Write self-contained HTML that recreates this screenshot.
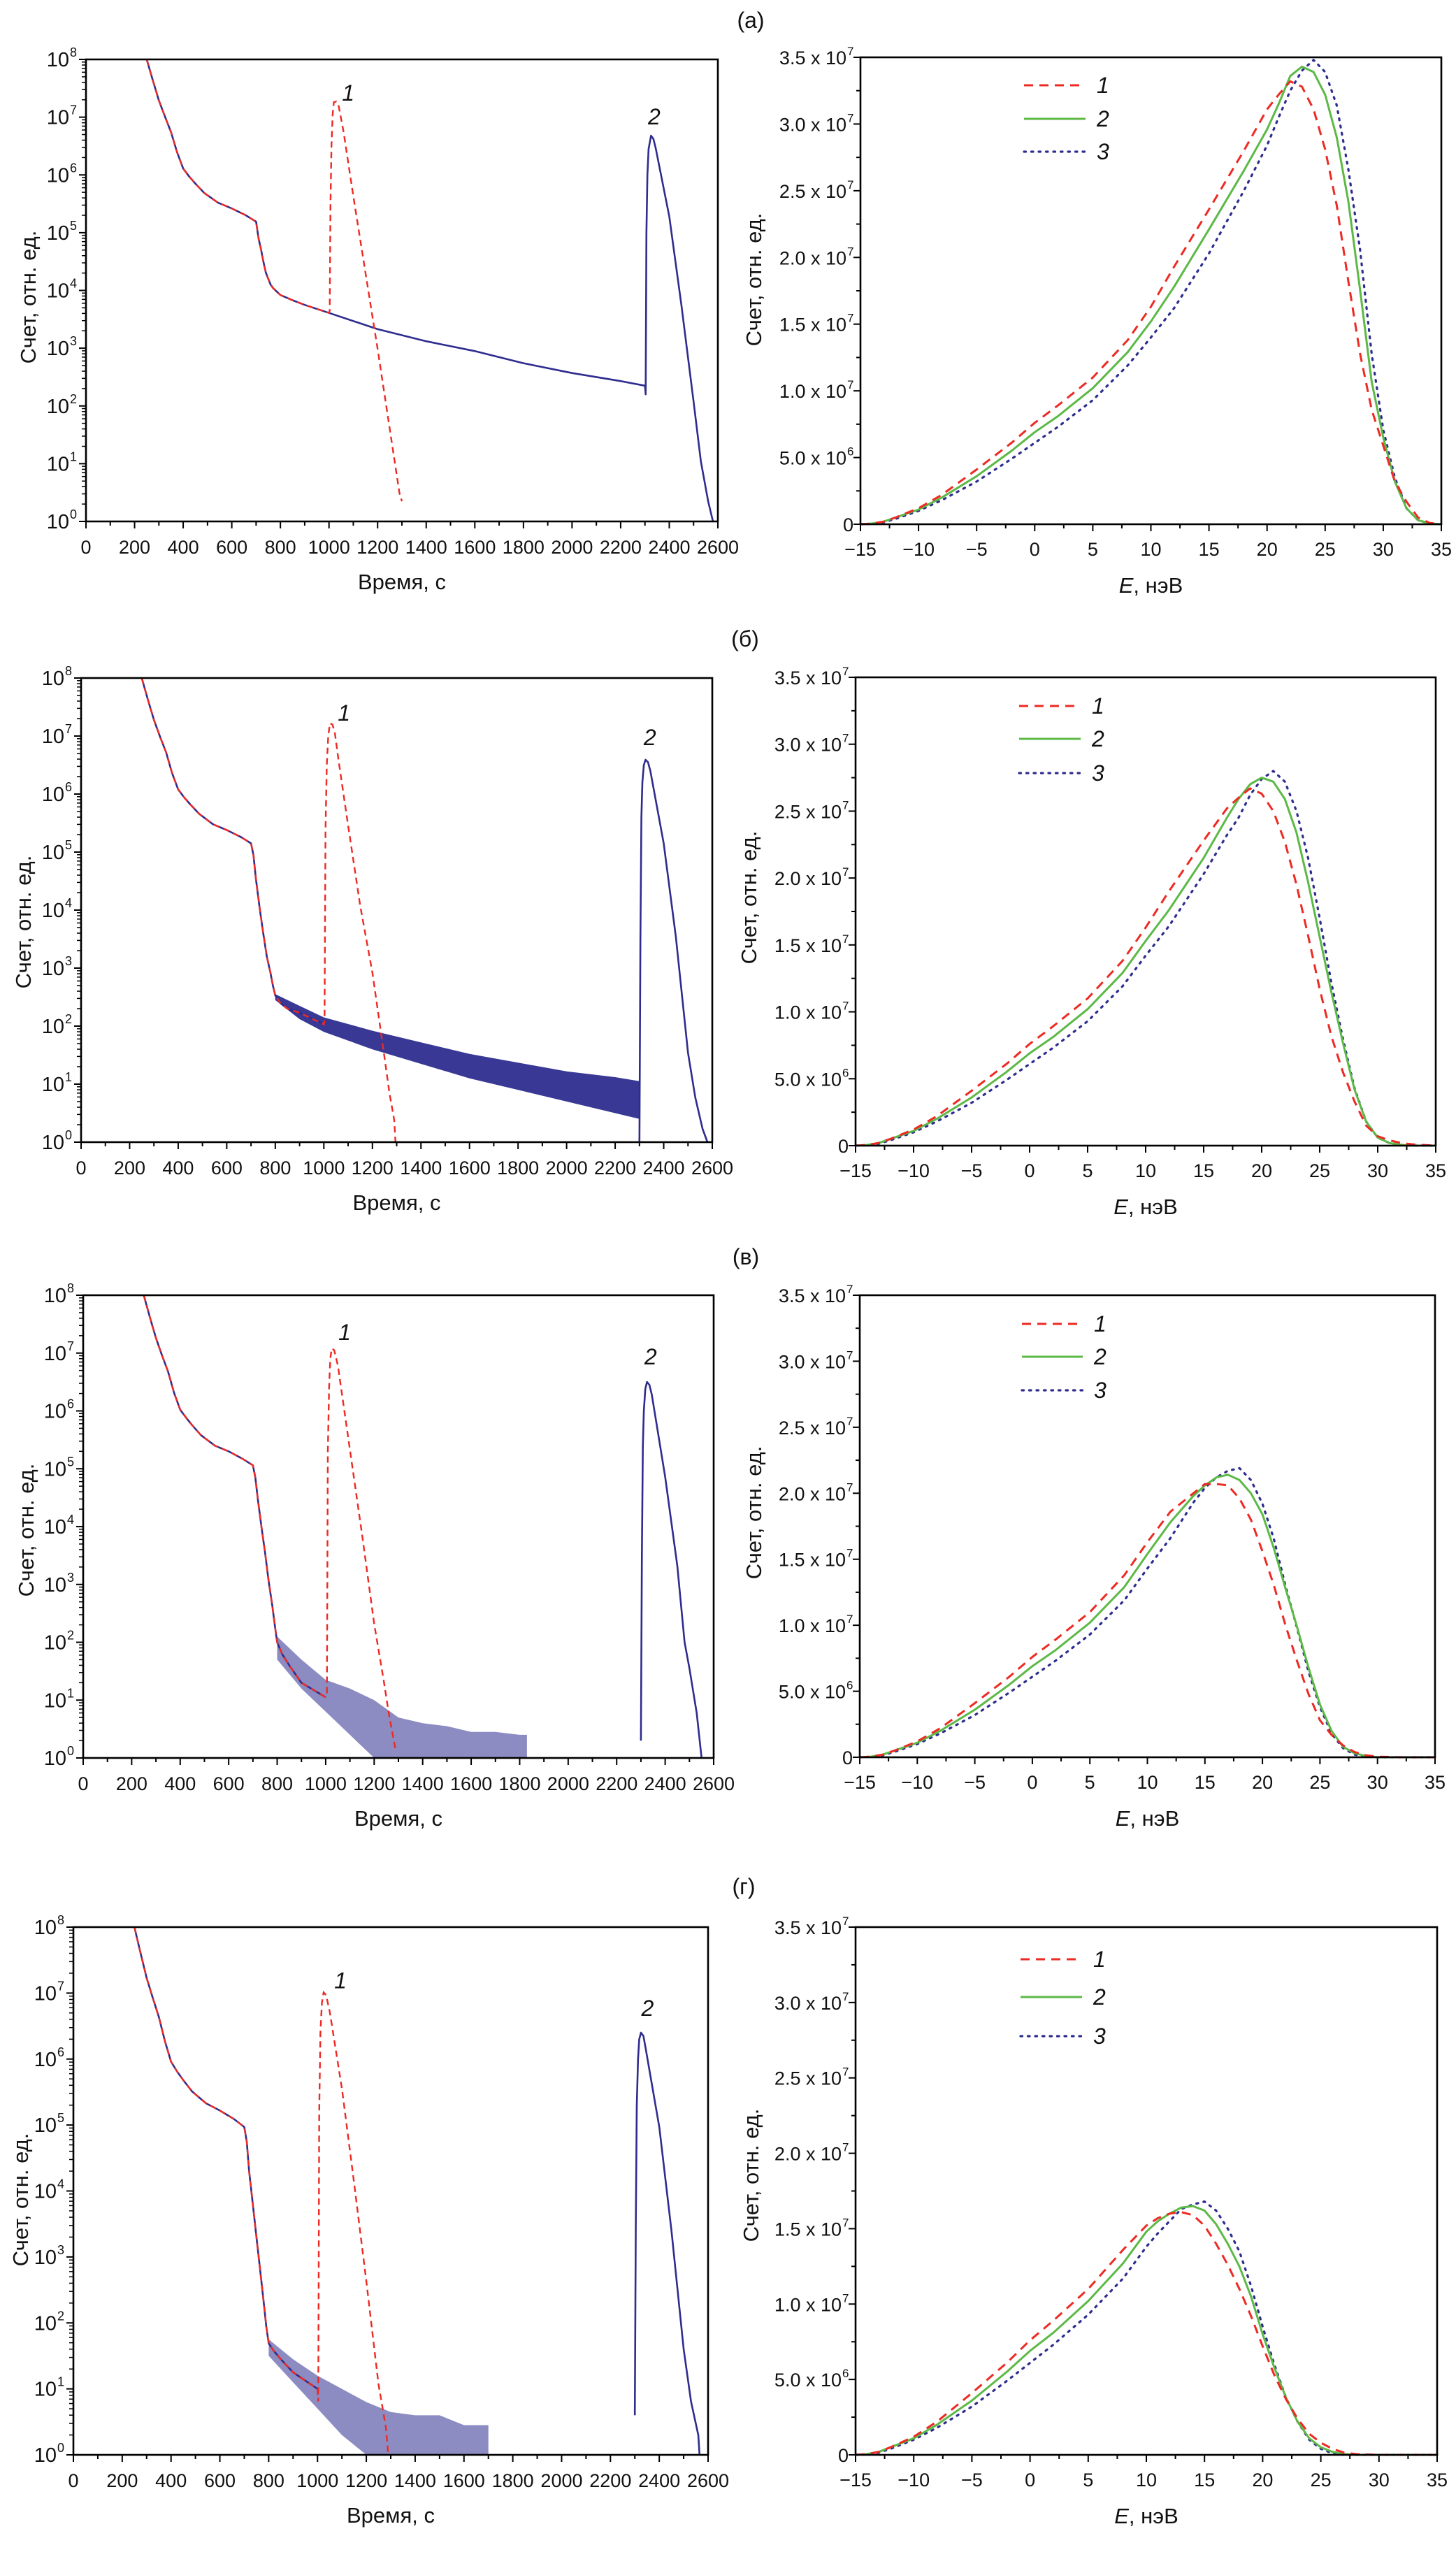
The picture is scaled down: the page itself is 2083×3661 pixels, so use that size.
<!DOCTYPE html>
<html><head><meta charset="utf-8">
<style>
html,body{margin:0;padding:0;background:#fff;}
svg{display:block;}
text{font-family:"Liberation Sans","DejaVu Sans",sans-serif;fill:#111;}
</style></head>
<body>
<svg id="fig" xmlns="http://www.w3.org/2000/svg" width="2083" height="3661" viewBox="0 0 2083 3661"></svg>
<script>
// ---------- DATA (time plots: log10 of count) ----------
const timeTicks=[0,200,400,600,800,1000,1200,1400,1600,1800,2000,2200,2400,2600];
const logTicks=[0,1,2,3,4,5,6,7,8];
const energyTicks=[-15,-10,-5,0,5,10,15,20,25,30,35];
const countTicks=[0,5e6,1e7,1.5e7,2e7,2.5e7,3e7,3.5e7];
const countTickMant=["0","5.0","1.0","1.5","2.0","2.5","3.0","3.5"];
const countTickExp=["","6","7","7","7","7","7","7"];
const panelLabels=["(а)","(б)","(в)","(г)"];

// panel a
const aBlueT=[250,275,300,325,350,375,400,425,450,486,543,600,658,700,710,720,730,740,750,760,770,790,800,850,900,1000,1200,1400,1600,1800,2000,2200,2300];
const aBlueV=[8,7.64,7.29,7.01,6.74,6.39,6.11,5.97,5.85,5.69,5.52,5.42,5.30,5.19,4.9,4.72,4.5,4.31,4.2,4.1,4.04,3.96,3.92,3.83,3.75,3.61,3.33,3.12,2.95,2.74,2.57,2.43,2.35];
const aPeakT=[2300,2303,2306,2310,2315,2325,2335,2345,2400,2450,2500,2530,2560,2580];
const aPeakV=[2.35,2.2,5.0,6.0,6.45,6.68,6.62,6.45,5.28,3.75,2.08,1.04,0.35,0];
const aRedT=[250,275,300,325,350,375,400,425,450,486,543,600,658,700,710,720,730,740,750,760,770,790,800,850,900,1000,1003,1006,1010,1015,1020,1030,1040,1060,1100,1150,1200,1250,1270,1290,1300];
const aRedV=[8,7.64,7.29,7.01,6.74,6.39,6.11,5.97,5.85,5.69,5.52,5.42,5.30,5.19,4.9,4.72,4.5,4.31,4.2,4.1,4.04,3.96,3.92,3.83,3.75,3.61,3.65,5.5,6.5,7.05,7.26,7.27,7.19,6.74,5.63,4.31,2.99,1.6,1.04,0.49,0.35];
const aNoiseT=[], aNoiseLo=[], aNoiseHi=[];
// panel б
const bBlueT=[250,275,300,325,350,375,400,425,450,486,543,600,658,700,710,720,735,750,765,780,790,800,820,850,900,1000];
const bBlueV=[8,7.63,7.28,6.99,6.72,6.36,6.08,5.94,5.82,5.66,5.48,5.38,5.26,5.15,4.95,4.54,4.05,3.61,3.2,2.92,2.7,2.53,2.4,2.30,2.23,2.03];
const bPeakT=[2300,2304,2308,2312,2318,2325,2335,2345,2400,2450,2500,2530,2560,2580];
const bPeakV=[0,3.5,5.6,6.2,6.5,6.59,6.55,6.4,5.15,3.54,1.54,0.77,0.23,0];
const bRedT=[250,275,300,325,350,375,400,425,450,486,543,600,658,700,710,720,735,750,765,780,790,800,820,850,900,1000,1003,1007,1012,1018,1025,1035,1045,1060,1100,1150,1200,1250,1270,1290,1295];
const bRedV=[8,7.63,7.28,6.99,6.72,6.36,6.08,5.94,5.82,5.66,5.48,5.38,5.26,5.15,4.95,4.54,4.05,3.61,3.2,2.92,2.7,2.53,2.4,2.30,2.23,2.03,2.1,5.4,6.5,7.0,7.22,7.2,7.07,6.6,5.46,4.07,2.92,1.46,0.85,0.38,0];
const bNoiseT=[800,900,1000,1200,1400,1600,1800,2000,2200,2300];
const bNoiseLo=[2.45,2.12,1.9,1.6,1.35,1.1,0.9,0.7,0.5,0.4];
const bNoiseHi=[2.55,2.35,2.15,1.92,1.72,1.52,1.37,1.22,1.12,1.05];
// panel в
const cBlueT=[250,275,300,325,350,375,400,425,450,486,543,600,658,700,710,720,735,750,765,780,790,800,820,850,900,1000];
const cBlueV=[8,7.62,7.26,6.96,6.68,6.31,6.02,5.88,5.75,5.58,5.40,5.30,5.17,5.06,4.85,4.48,4.0,3.55,3.05,2.63,2.3,2.0,1.8,1.6,1.3,1.05];
const cPeakT=[2300,2304,2308,2312,2318,2325,2335,2345,2400,2450,2480,2500,2530,2550];
const cPeakV=[0.3,3.5,5.4,6.0,6.38,6.5,6.45,6.28,4.86,3.32,2.0,1.55,0.78,0];
const cRedT=[250,275,300,325,350,375,400,425,450,486,543,600,658,700,710,720,735,750,765,780,790,800,820,850,900,1000,1005,1009,1014,1019,1025,1035,1050,1100,1150,1200,1240,1260,1290];
const cRedV=[8,7.62,7.26,6.96,6.68,6.31,6.02,5.88,5.75,5.58,5.40,5.30,5.17,5.06,4.85,4.48,4.0,3.55,3.05,2.63,2.3,2.0,1.8,1.6,1.3,1.05,1.1,5.3,6.4,6.9,7.08,7.05,6.79,5.33,3.86,2.32,1.32,0.78,0.1];
const cNoiseT=[800,900,1000,1100,1200,1300,1400,1500,1600,1700,1800,1830];
const cNoiseLo=[1.7,1.2,0.8,0.4,0,0,0,0,0,0,0,0];
const cNoiseHi=[2.1,1.7,1.35,1.2,1.0,0.7,0.6,0.55,0.45,0.45,0.4,0.4];
// panel г
const dBlueT=[250,275,300,325,350,375,400,425,450,486,543,600,658,700,710,720,735,750,765,780,790,800,820,850,900,1000];
const dBlueV=[8,7.61,7.23,6.93,6.64,6.27,5.96,5.81,5.68,5.51,5.33,5.22,5.09,4.97,4.75,4.3,3.8,3.3,2.8,2.3,1.95,1.69,1.58,1.45,1.25,1.0];
const dPeakT=[2300,2304,2308,2313,2318,2325,2335,2345,2400,2450,2500,2530,2560,2565];
const dPeakV=[0.6,3.5,5.3,6.0,6.3,6.4,6.35,6.15,4.97,3.4,1.6,0.81,0.3,0];
const dRedT=[250,275,300,325,350,375,400,425,450,486,543,600,658,700,710,720,735,750,765,780,790,800,820,850,900,1000,1003,1007,1012,1018,1025,1035,1050,1100,1150,1200,1250,1280,1290];
const dRedV=[8,7.61,7.23,6.93,6.64,6.27,5.96,5.81,5.68,5.51,5.33,5.22,5.09,4.97,4.75,4.3,3.8,3.3,2.8,2.3,1.95,1.69,1.58,1.45,1.25,1.0,0.81,5.2,6.4,6.85,7.01,6.97,6.72,5.55,4.12,2.63,1.07,0.42,0];
const dNoiseT=[800,900,1000,1100,1200,1300,1400,1500,1600,1700];
const dNoiseLo=[1.5,1.1,0.7,0.3,0,0,0,0,0,0];
const dNoiseHi=[1.75,1.45,1.2,1.0,0.8,0.65,0.6,0.6,0.45,0.45];
// curve number label positions (time, log10)
const label1T=[1079,1083,1078,1094], label1V=[7.43,7.41,7.37,7.2];
const label2T=[2338,2343,2340,2352], label2V=[7.02,6.99,6.95,6.78];

// ---------- DATA (energy plots, units of 1e7) ----------
const aE=[-15,-14,-13,-12,-10,-8,-5,-2,0,2,5,8,10,12,15,18,20,21,22,23,24,25,26,27,28,29,30,31,32,33,34,35];
const aS1=[0,0.005,0.02,0.05,0.12,0.22,0.41,0.61,0.76,0.89,1.10,1.38,1.63,1.93,2.36,2.80,3.11,3.22,3.32,3.28,3.11,2.81,2.39,1.82,1.28,0.86,0.59,0.32,0.17,0.05,0.01,0];
const aS2=[0,0.005,0.02,0.05,0.11,0.2,0.36,0.55,0.69,0.81,1.02,1.29,1.52,1.78,2.21,2.65,2.96,3.15,3.36,3.43,3.39,3.22,2.90,2.42,1.76,1.07,0.65,0.32,0.12,0.03,0.005,0];
const aS3=[0,0.003,0.015,0.04,0.10,0.18,0.32,0.49,0.61,0.73,0.93,1.19,1.40,1.62,2.03,2.50,2.84,3.05,3.25,3.40,3.48,3.39,3.14,2.66,2.06,1.28,0.71,0.35,0.12,0.03,0.005,0];
const bE=[-15,-14,-13,-12,-10,-8,-5,-2,0,2,5,8,10,12,15,17,18,19,20,21,22,23,24,25,26,27,28,29,30,31,32,33,35];
const bS1=[0,0.005,0.02,0.05,0.12,0.22,0.41,0.61,0.76,0.89,1.10,1.38,1.63,1.90,2.28,2.52,2.60,2.67,2.63,2.50,2.27,1.95,1.57,1.17,0.82,0.55,0.33,0.15,0.07,0.04,0.02,0.01,0];
const bS2=[0,0.005,0.02,0.05,0.11,0.2,0.36,0.55,0.69,0.81,1.02,1.29,1.53,1.76,2.15,2.45,2.59,2.70,2.75,2.72,2.59,2.34,1.97,1.56,1.15,0.77,0.42,0.18,0.06,0.02,0.005,0,0];
const bS3=[0,0.003,0.015,0.04,0.10,0.18,0.32,0.49,0.61,0.73,0.93,1.19,1.42,1.64,2.03,2.32,2.45,2.62,2.74,2.80,2.72,2.50,2.15,1.70,1.22,0.80,0.43,0.18,0.06,0.02,0.005,0,0];
const cE=[-15,-14,-13,-12,-10,-8,-5,-2,0,2,5,8,10,12,14,15,16,17,18,19,20,21,22,23,24,25,26,27,28,29,30,32,35];
const cS1=[0,0.005,0.02,0.05,0.12,0.22,0.41,0.61,0.76,0.89,1.10,1.38,1.63,1.86,2.00,2.07,2.07,2.06,1.96,1.80,1.56,1.30,1.00,0.73,0.48,0.28,0.17,0.09,0.04,0.015,0.005,0,0];
const cS2=[0,0.005,0.02,0.05,0.11,0.2,0.36,0.55,0.69,0.81,1.02,1.29,1.54,1.78,1.98,2.06,2.12,2.14,2.10,2.00,1.84,1.58,1.28,0.99,0.68,0.40,0.20,0.08,0.03,0.01,0,0,0];
const cS3=[0,0.003,0.015,0.04,0.10,0.18,0.32,0.49,0.61,0.73,0.93,1.19,1.43,1.66,1.93,2.04,2.12,2.17,2.19,2.10,1.92,1.65,1.30,0.98,0.65,0.38,0.18,0.07,0.02,0.005,0,0,0];
const dE=[-15,-14,-13,-12,-10,-8,-5,-2,0,2,5,8,10,11,12,13,14,15,16,17,18,19,20,21,22,23,24,25,26,27,28,30,35];
const dS1=[0,0.005,0.02,0.05,0.12,0.22,0.41,0.61,0.76,0.89,1.10,1.36,1.52,1.57,1.60,1.61,1.59,1.52,1.40,1.26,1.10,0.92,0.72,0.53,0.37,0.24,0.14,0.08,0.04,0.015,0.005,0,0];
const dS2=[0,0.005,0.02,0.05,0.11,0.2,0.36,0.55,0.69,0.81,1.02,1.27,1.48,1.55,1.60,1.64,1.65,1.62,1.53,1.40,1.25,1.05,0.80,0.58,0.38,0.22,0.11,0.05,0.02,0.005,0,0,0];
const dS3=[0,0.003,0.015,0.04,0.10,0.18,0.32,0.49,0.61,0.73,0.93,1.17,1.38,1.47,1.55,1.63,1.66,1.68,1.62,1.50,1.35,1.12,0.85,0.60,0.38,0.22,0.10,0.04,0.01,0,0,0,0];

// ---------- LAYOUT ----------
const NS="http://www.w3.org/2000/svg";
const svg=document.getElementById('fig');
const RED="#ed2a24", BLUE="#2e2d8f", GREEN="#5cb946";
const leftBoxes=[{l:123,r:1027,t:85,b:746},{l:116,r:1019,t:970,b:1634},{l:119,r:1021,t:1853,b:2515},{l:105,r:1013,t:2757,b:3512}];
const rightBoxes=[{l:1231,r:2062,t:82,b:750},{l:1224,r:2054,t:969,b:1639},{l:1230,r:2053,t:1853,b:2514},{l:1224,r:2056,t:2757,b:3512}];
const panelLabelPos=[[1074,40],[1066,925],[1067,1809],[1064,2710]];
const leftYTitle=[[40,425],[33,1319],[37,2189],[29,3147]];
const rightYTitle=[[1078,400],[1071,1284],[1078,2164],[1074,3112]];
const legendRows=[[122,170,217],[1010,1057,1106],[1894,1941,1989],[2803,2857,2913]];
const legendX=[[1465,1553],[1458,1546],[1462,1549],[1460,1548]];
const bandOpacity=[0.8,0.95,0.55,0.55];

function mk(tag,attrs,parent){const e=document.createElementNS(NS,tag);for(const k in attrs)e.setAttribute(k,attrs[k]);(parent||svg).appendChild(e);return e;}
function pathD(xs,ys){let d="";for(let i=0;i<xs.length;i++)d+=(i?"L":"M")+xs[i].toFixed(1)+" "+ys[i].toFixed(1);return d;}

const blueMain=[[aBlueT,aBlueV],[bBlueT,bBlueV],[cBlueT,cBlueV],[dBlueT,dBlueV]];
const bluePeak=[[aPeakT,aPeakV],[bPeakT,bPeakV],[cPeakT,cPeakV],[dPeakT,dPeakV]];
const redSer=[[aRedT,aRedV],[bRedT,bRedV],[cRedT,cRedV],[dRedT,dRedV]];
const noiseSer=[[aNoiseT,aNoiseLo,aNoiseHi],[bNoiseT,bNoiseLo,bNoiseHi],[cNoiseT,cNoiseLo,cNoiseHi],[dNoiseT,dNoiseLo,dNoiseHi]];
const energySer=[[aE,aS1,aS2,aS3],[bE,bS1,bS2,bS3],[cE,cS1,cS2,cS3],[dE,dS1,dS2,dS3]];

for(let p=0;p<4;p++){
  const pl=mk('text',{x:panelLabelPos[p][0],y:panelLabelPos[p][1],'text-anchor':'middle','font-size':32});
  
  
  pl.textContent=panelLabels[p];

  // ===== LEFT (time, log) =====
  const B=leftBoxes[p];
  const X=t=>B.l+(t/2600)*(B.r-B.l);
  const Y=v=>B.b-(v/8)*(B.b-B.t);
  const g=mk('g',{});
  
  
  for(let t=0;t<=2600;t+=100){
    const major=t%200===0;
    mk('line',{x1:X(t),x2:X(t),y1:B.b,y2:B.b+(major?10:6),stroke:'#000','stroke-width':2},g);
  }
  timeTicks.forEach(t=>{
    const tx=mk('text',{x:X(t),y:B.b+46,'text-anchor':'middle','font-size':27},g);
    
    
    tx.textContent=t;
  });
  logTicks.forEach(v=>{
    mk('line',{x1:B.l-10,x2:B.l,y1:Y(v),y2:Y(v),stroke:'#000','stroke-width':2},g);
    if(v<8)for(let m=2;m<=9;m++){const yy=Y(v+Math.log10(m));mk('line',{x1:B.l-6,x2:B.l,y1:yy,y2:yy,stroke:'#000','stroke-width':1.5},g);}
    const tx=mk('text',{x:B.l-24,y:Y(v)+10,'text-anchor':'end','font-size':29},g);
    
    
    tx.textContent="10";
    const sp=mk('text',{x:B.l-23,y:Y(v)-4,'text-anchor':'start','font-size':18},g);
    sp.textContent=v;
  });
  const nz=noiseSer[p];
  if(nz[0].length){
    const xs=nz[0].map(X).concat(nz[0].slice().reverse().map(X));
    const ys=nz[2].map(Y).concat(nz[1].slice().reverse().map(Y));
    const band=mk('path',{d:pathD(xs,ys)+"Z",fill:BLUE,'fill-opacity':bandOpacity[p],stroke:'none'},g);
    
    
  }
  const bm=blueMain[p], bp=bluePeak[p];
  const l2=mk('path',{d:pathD(bm[0].map(X),bm[1].map(Y)),fill:'none',stroke:BLUE,'stroke-width':2.6,'stroke-linejoin':'round'},g);
  
  
  const l2p=mk('path',{d:pathD(bp[0].map(X),bp[1].map(Y)),fill:'none',stroke:BLUE,'stroke-width':2.6,'stroke-linejoin':'round'},g);
  
  
  const rs=redSer[p];
  const l1=mk('path',{d:pathD(rs[0].map(X),rs[1].map(Y)),fill:'none',stroke:RED,'stroke-width':2.4,'stroke-dasharray':'9 6'},g);
  
  
  const fr=mk('rect',{x:B.l,y:B.t,width:B.r-B.l,height:B.b-B.t,fill:'none',stroke:'#000','stroke-width':2.6},g);
  
  
  const c1=mk('text',{x:X(label1T[p]),y:Y(label1V[p])+12,'text-anchor':'middle','font-size':32,'font-style':'italic'},g);
  
  
  c1.textContent="1";
  const c2=mk('text',{x:X(label2T[p]),y:Y(label2V[p])+12,'text-anchor':'middle','font-size':32,'font-style':'italic'},g);
  
  
  c2.textContent="2";
  const xt=mk('text',{x:(B.l+B.r)/2,y:B.b+97,'text-anchor':'middle','font-size':31},g);
  
  
  xt.textContent="Время, с";
  const yt=mk('text',{x:leftYTitle[p][0],y:leftYTitle[p][1],'text-anchor':'middle','font-size':31,transform:`rotate(-90 ${leftYTitle[p][0]} ${leftYTitle[p][1]}) translate(0 11)`},g);
  
  
  yt.textContent="Счет, отн. ед.";

  // ===== RIGHT (energy) =====
  const R=rightBoxes[p];
  const EX=e=>R.l+((e+15)/50)*(R.r-R.l);
  const EY=v=>R.b-(v/3.5e7)*(R.b-R.t);
  const h=mk('g',{});
  
  
  for(let e=-15;e<=35;e+=2.5){
    const major=Math.abs(e%5)<0.01;
    mk('line',{x1:EX(e),x2:EX(e),y1:R.b,y2:R.b+(major?10:6),stroke:'#000','stroke-width':2},h);
  }
  energyTicks.forEach(e=>{
    const tx=mk('text',{x:EX(e),y:R.b+45,'text-anchor':'middle','font-size':27},h);
    
    
    tx.textContent=e<0?"\u2212"+(-e):String(e);
  });
  for(let v=0;v<=3.5e7;v+=2.5e6){
    const major=Math.abs((v/5e6)-Math.round(v/5e6))<0.01;
    mk('line',{x1:R.l-(major?10:6),x2:R.l,y1:EY(v),y2:EY(v),stroke:'#000','stroke-width':2},h);
  }
  countTicks.forEach((v,i)=>{
    const tx=mk('text',{x:R.l-(countTickExp[i]?20:10),y:EY(v)+10,'text-anchor':'end','font-size':27},h);
    
    
    tx.textContent=countTickMant[i]+(countTickExp[i]?" x 10":"");
    if(countTickExp[i]){const sp=mk('text',{x:R.l-19,y:EY(v)-3,'font-size':17},h);sp.textContent=countTickExp[i];}
  });
  const es=energySer[p];
  const styles=[{stroke:RED,'stroke-width':3,'stroke-dasharray':'13 9'},{stroke:GREEN,'stroke-width':3},{stroke:BLUE,'stroke-width':3.2,'stroke-dasharray':'2.5 8','stroke-linecap':'round'}];
  [2,1,0].forEach(k=>{
    const a=Object.assign({d:pathD(es[0].map(EX),es[k+1].map(v=>EY(v*1e7))),fill:'none','stroke-linejoin':'round'},styles[k]);
    const ln=mk('path',a,h);
    
    
  });
  const fr2=mk('rect',{x:R.l,y:R.t,width:R.r-R.l,height:R.b-R.t,fill:'none',stroke:'#000','stroke-width':2.6},h);
  
  
  const lg=mk('g',{},h);
  
  
  for(let k=0;k<3;k++){
    const yy=legendRows[p][k];
    const a=Object.assign({x1:legendX[p][0],x2:legendX[p][1],y1:yy,y2:yy},styles[k]);
    mk('line',a,lg);
    const tx=mk('text',{x:legendX[p][1]+16,y:yy+11,'font-size':32,'font-style':'italic'},lg);
    
    
    tx.textContent=String(k+1);
  }
  const xt2=mk('text',{x:(R.l+R.r)/2,y:R.b+98,'text-anchor':'middle','font-size':31},h);
  
  
  xt2.innerHTML='<tspan font-style="italic">E</tspan>, нэВ';
  const yt2=mk('text',{x:rightYTitle[p][0],y:rightYTitle[p][1],'text-anchor':'middle','font-size':31,transform:`rotate(-90 ${rightYTitle[p][0]} ${rightYTitle[p][1]}) translate(0 11)`},h);
  
  
  yt2.textContent="Счет, отн. ед.";
}
</script>
</body></html>
